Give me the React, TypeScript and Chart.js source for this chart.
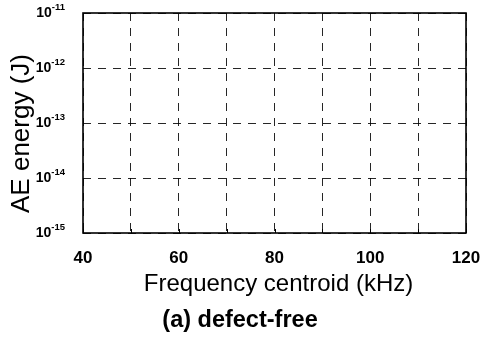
import { useEffect, useRef } from 'react';
import { Chart, registerables } from 'chart.js';

Chart.register(...registerables);

// Axis ranges and ticks
const xTickValues = [40, 50, 60, 70, 80, 90, 100, 110, 120];
const xLabelStep = 20;
const yExponents = [-15, -14, -13, -12, -11];

// Measured events (none recorded for this specimen)
const freqCentroid: number[] = []; // kHz
const aeEnergy: number[] = []; // J

const xTitle = 'Frequency centroid (kHz)';
const yTitle = 'AE energy (J)';
const caption = '(a) defect-free';

const FONT = "Arial, 'Liberation Sans', Helvetica, sans-serif";
const W = 481;
const H = 340;

const pow10 = (e: number) => Number(`1e${e}`);

const textPlugin = {
  id: 'axisText',
  afterDraw(chart: any) {
    const { ctx, chartArea, scales } = chart;
    const { left, right, top, bottom } = chartArea;
    ctx.save();

    // inner tick marks along the bottom edge
    ctx.strokeStyle = '#000';
    ctx.lineWidth = 1;
    ctx.setLineDash([]);
    for (const t of scales.x.ticks) {
      const px = Math.round(scales.x.getPixelForValue(t.value)) + 0.5;
      ctx.beginPath();
      ctx.moveTo(px, bottom);
      ctx.lineTo(px, bottom - 4);
      ctx.stroke();
    }

    // frame around the plot area
    ctx.lineWidth = 1.6;
    ctx.strokeStyle = '#000';
    ctx.strokeRect(left, top, right - left, bottom - top);

    // y tick labels: 10 with a raised exponent
    ctx.fillStyle = '#000';
    ctx.textBaseline = 'middle';
    ctx.textAlign = 'left';
    const baseFont = `bold 14px ${FONT}`;
    const supFont = `bold 9.5px ${FONT}`;
    for (const t of scales.y.ticks) {
      const py = scales.y.getPixelForValue(t.value);
      const exp = Math.round(Math.log10(t.value));
      const sup = `${exp}`;
      ctx.font = supFont;
      const supW = ctx.measureText(sup).width;
      ctx.font = baseFont;
      const baseW = ctx.measureText('10').width;
      const xEnd = left - 18;
      const xSup = xEnd - supW;
      const xBase = xSup - baseW;
      ctx.fillText('10', xBase, py);
      ctx.font = supFont;
      ctx.fillText(sup, xSup, py - 5.5);
    }

    // axis titles
    ctx.textBaseline = 'alphabetic';
    ctx.textAlign = 'center';
    ctx.font = `24px ${FONT}`;
    ctx.fillText(xTitle, (left + right) / 2 + 4, 291);

    ctx.save();
    ctx.translate(28.5, (top + bottom) / 2 + 10.5);
    ctx.rotate(-Math.PI / 2);
    ctx.font = `26px ${FONT}`;
    ctx.fillText(yTitle, 0, 0);
    ctx.restore();

    // caption
    ctx.font = `bold 23.5px ${FONT}`;
    ctx.fillText(caption, 240, 327);

    ctx.restore();
  },
};

export default function App() {
  const ref = useRef<HTMLCanvasElement | null>(null);

  useEffect(() => {
    document.body.style.margin = '0';
    const canvas = ref.current;
    if (!canvas) return;

    const gridStyle = { color: 'rgba(0,0,0,0.85)', lineWidth: 1, drawTicks: false };

    const chart = new Chart(canvas, {
      type: 'scatter',
      data: {
        datasets: [
          {
            data: freqCentroid.map((x, i) => ({ x, y: aeEnergy[i] })),
            pointRadius: 3,
            backgroundColor: '#000',
            borderColor: '#000',
          },
        ],
      },
      options: {
        responsive: false,
        animation: false,
        devicePixelRatio: 1,
        layout: { padding: { left: 0, right: 15, top: 13, bottom: 0 } },
        plugins: {
          legend: { display: false },
          tooltip: { enabled: false },
          title: { display: false },
        },
        scales: {
          x: {
            type: 'linear',
            min: xTickValues[0],
            max: xTickValues[xTickValues.length - 1],
            afterBuildTicks: (s: any) => {
              s.ticks = xTickValues.map((v) => ({ value: v }));
            },
            afterFit: (s: any) => {
              s.height = 107;
              s.paddingLeft = 0;
              s.paddingRight = 0;
            },
            ticks: {
              autoSkip: false,
              maxRotation: 0,
              minRotation: 0,
              padding: 15,
              color: '#000',
              font: { family: FONT, size: 17, weight: 'bold' },
              callback: (v: any) => (Number(v) % xLabelStep === 0 ? String(v) : ''),
            },
            grid: gridStyle,
            border: { display: false, dash: [8, 7] },
          },
          y: {
            type: 'logarithmic',
            min: pow10(yExponents[0]),
            max: pow10(yExponents[yExponents.length - 1]),
            afterBuildTicks: (s: any) => {
              s.ticks = yExponents.map((e) => ({ value: pow10(e) }));
            },
            afterFit: (s: any) => {
              s.width = 83;
              s.paddingTop = 0;
              s.paddingBottom = 0;
            },
            ticks: { display: false },
            grid: gridStyle,
            border: { display: false, dash: [8, 7] },
          },
        },
      } as any,
      plugins: [textPlugin],
    });

    return () => chart.destroy();
  }, []);

  return <canvas ref={ref} width={W} height={H} style={{ display: 'block', width: W, height: H }} />;
}
